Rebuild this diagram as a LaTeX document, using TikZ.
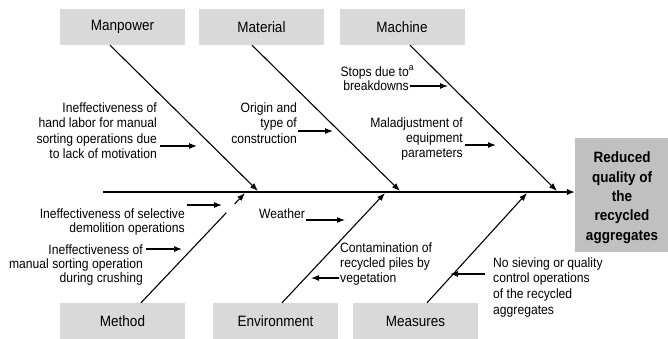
\documentclass[tikz,border=0pt]{standalone}
\usepackage{fontspec}
\setmainfont{Liberation Sans}[FakeStretch=0.9]
\usetikzlibrary{arrows.meta,calc}
\definecolor{catfill}{HTML}{D9D9D9}
\definecolor{effectfill}{HTML}{C0C0C0}
\begin{document}
\begin{tikzpicture}[x=1pt,y=-1pt,
  catbox/.style={fill=catfill, minimum width=125pt, minimum height=36pt, inner sep=0pt,
    font=\fontsize{15}{18}\selectfont},
  effectbox/.style={fill=effectfill, minimum width=93pt, minimum height=114pt, inner sep=0pt},
  bone/.style={line width=1.1pt},
  bonearrow/.style={line width=1.1pt, -{Latex[length=8pt,width=6pt]}},
  spinearrow/.style={line width=1.4pt, -{Latex[length=8pt,width=6.5pt]}},
  cause/.style={inner sep=0pt, font=\fontsize{13.5}{15}\selectfont},
  hint/.style={line width=1.1pt, -{Latex[length=8pt,width=6pt]}}
]
\useasboundingbox (0,0) rectangle (668,338);

% category boxes
\node[catbox] (mp)  at (122.5,27) {Manpower};
\node[catbox] (mat) at (261.5,27) {Material};
\node[catbox] (mac) at (402,27)   {Machine};
\node[catbox] (met) at (122.5,321) {Method};
\node[catbox] (env) at (275.5,321) {Environment};
\node[catbox] (mea) at (415.5,321) {Measures};

% effect
\node[effectbox] (eff) at (621.5,195) {};
\node[inner sep=0pt, align=center, font=\bfseries\fontsize{15}{19.3}\selectfont, anchor=base]
  (efftext) at (622,240)
  {Reduced\\quality of\\the\\recycled\\aggregates};

% spine
\coordinate (tail) at (103,192);
\draw[spinearrow] (tail) -- (tail -| eff.west);

% bones
\coordinate (jmp)  at (258,191);
\coordinate (jmat) at (400,191);
\coordinate (jmac) at (557,191);
\coordinate (jmet) at (245,193);
\coordinate (jenv) at (385,193);
\coordinate (jmea) at (527,193);
\draw[bonearrow] ($(mp.south)+(-12.5,0)$) -- (jmp);
\draw[bonearrow] ($(mat.south)+(-9.5,0)$) -- (jmat);
\draw[bonearrow] ($(mac.south)+(8,0)$) -- (jmac);
\coordinate (m0) at ($(met.north)+(18.5,0)$);
\draw[bone] (m0) -- ($(m0)!0.82!(jmet)$);
\draw[bonearrow] ($(m0)!0.9!(jmet)$) -- (jmet);
\draw[bonearrow] ($(env.north)+(6.5,0)$) -- (jenv);
\draw[bonearrow] ($(mea.north)+(11.5,0)$) -- (jmea);

% causes (each anchored at the baseline of its last line)
\node[cause, align=right, anchor=base east, font=\fontsize{13.5}{15.5}\selectfont] (cmp) at (157,158.5)
  {Ineffectiveness of\\hand labor for manual\\sorting operations due\\to lack of motivation};
\coordinate (tmp) at (197,146);
\draw[hint] ($(cmp.east |- tmp)+(3,0)$) -- (tmp);

\node[cause, align=right, anchor=base east, font=\fontsize{13.5}{15.5}\selectfont] (cmat) at (297,143)
  {Origin and\\type of\\construction};
\coordinate (tmat) at (333,131);
\draw[hint] ($(cmat.east |- tmat)+(1,0)$) -- (tmat);

\node[cause, align=right, anchor=base east, font=\fontsize{13.5}{14}\selectfont] (cmac1) at (409,90)
  {Stops due to\rlap{\textsuperscript{a}}\\breakdowns};
\coordinate (tmac1) at (448,86);
\draw[hint] ($(cmac1.east |- tmac1)+(1,0)$) -- (tmac1);

\node[cause, align=right, anchor=base east] (cmac2) at (463,157)
  {Maladjustment of\\equipment\\parameters};
\coordinate (tmac2) at (496,145);
\draw[hint] ($(cmac2.east |- tmac2)+(2,0)$) -- (tmac2);

\node[cause, align=right, anchor=base east, font=\fontsize{13.5}{14}\selectfont] (cmet1) at (185,232)
  {Ineffectiveness of selective\\demolition operations};
\coordinate (tmet1) at (222,205);
\draw[hint] ($(cmet1.east |- tmet1)+(2,0)$) -- (tmet1);

\node[cause, align=right, anchor=base east, font=\fontsize{13.5}{14}\selectfont] (cmet2) at (143,282)
  {Ineffectiveness of\\manual sorting operation\\during crushing};
\coordinate (tmet2) at (182,249);
\draw[hint] ($(cmet2.east |- tmet2)+(3,0)$) -- (tmet2);

\node[cause, anchor=base west] (cw) at (259,218) {Weather};
\coordinate (tw) at (345,220);
\draw[hint] ($(cw.east |- tw)+(1,0)$) -- (tw);

\node[cause, align=left, anchor=base west] (cenv) at (340,282)
  {Contamination of\\recycled piles by\\vegetation};
\coordinate (tenv) at (311,278);
\draw[hint] ($(cenv.west |- tenv)+(-1,0)$) -- (tenv);

\node[cause, align=left, anchor=base west, font=\fontsize{13.5}{15.8}\selectfont] (cmea) at (493,314.5)
  {No sieving or quality\\control operations\\of the recycled\\aggregates};
\coordinate (tmea) at (450,274);
\draw[hint] ($(cmea.west |- tmea)+(-8,0)$) -- (tmea);
\end{tikzpicture}
\end{document}
